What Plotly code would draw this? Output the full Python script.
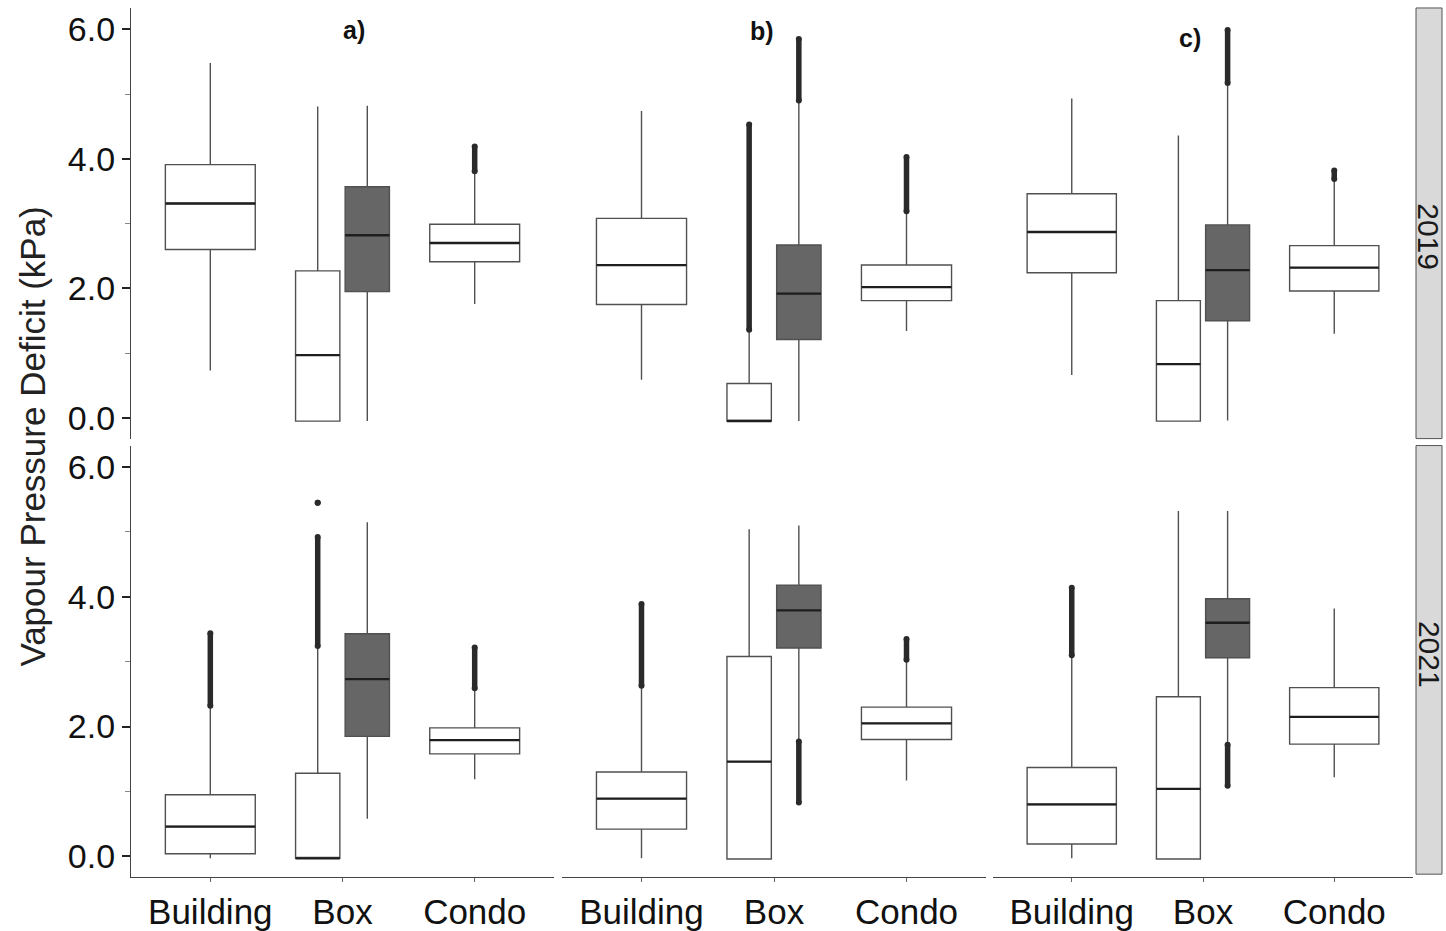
import plotly.graph_objects as go

# ---------------- data (panels ordered 2019 a,b,c then 2021 a,b,c) ----------------
years = ["2019", "2021"]
panel_labels = ["a)", "b)", "c)"]
categories = ["Building", "Box", "Condo"]

building_q1 = [2.60, 1.75, 2.24, 0.04, 0.42, 0.19]
building_med = [3.31, 2.36, 2.87, 0.46, 0.89, 0.80]
building_q3 = [3.91, 3.08, 3.46, 0.95, 1.30, 1.37]
building_lo = [0.73, 0.59, 0.66, -0.03, -0.03, -0.03]
building_hi = [5.48, 4.74, 4.93, 2.30, 2.61, 3.08]
building_out = [[], [], [], [(2.32, 3.44)], [(2.63, 3.89)], [(3.10, 4.14)]]

boxw_q1 = [-0.05, -0.05, -0.05, -0.03, -0.04, -0.04]
boxw_med = [0.97, -0.05, 0.83, -0.03, 1.46, 1.04]
boxw_q3 = [2.27, 0.53, 1.81, 1.28, 3.08, 2.46]
boxw_lo = [-0.05, -0.05, -0.05, -0.03, -0.04, -0.04]
boxw_hi = [4.81, 1.34, 4.36, 3.22, 5.04, 5.32]
boxw_out = [[], [(1.36, 4.53)], [], [(3.24, 4.92), (5.45, 5.45)], [], []]

boxd_q1 = [1.95, 1.21, 1.50, 1.85, 3.21, 3.06]
boxd_med = [2.82, 1.92, 2.28, 2.73, 3.79, 3.60]
boxd_q3 = [3.57, 2.67, 2.98, 3.43, 4.18, 3.97]
boxd_lo = [-0.05, -0.05, -0.04, 0.58, 1.80, 1.74]
boxd_hi = [4.82, 4.88, 5.15, 5.15, 5.10, 5.32]
boxd_out = [[], [(4.90, 5.85)], [(5.17, 5.99)], [], [(0.83, 1.77)], [(1.09, 1.72)]]

condo_q1 = [2.41, 1.81, 1.96, 1.58, 1.80, 1.73]
condo_med = [2.70, 2.02, 2.32, 1.79, 2.05, 2.15]
condo_q3 = [2.99, 2.36, 2.66, 1.98, 2.30, 2.60]
condo_lo = [1.76, 1.34, 1.30, 1.19, 1.17, 1.22]
condo_hi = [3.78, 3.17, 3.68, 2.57, 3.01, 3.82]
condo_out = [[(3.81, 4.19)], [(3.19, 4.03)], [(3.69, 3.82)], [(2.59, 3.22)], [(3.03, 3.35)], []]

# ---------------- layout / style ----------------
W, H = 1446, 931
FONT = "Liberation Sans, Arial, sans-serif"
col_px = [(131, 554), (562, 986), (993, 1413)]
row_px = [(8, 440), (447, 880)]
YR = [-0.32, 6.33]
DODGE = 0.1875
WIDE, NARROW = 0.68, 0.335
WHITE, DARK = "#ffffff", "#666666"
EDGE = "#505050"
MED = "#1e1e1e"
OUT = "#2a2a2a"

series = [
    # (position, width, fill, q1, med, q3, lo, hi, outliers)
    (1.0, WIDE, WHITE, building_q1, building_med, building_q3, building_lo, building_hi, building_out),
    (2.0 - DODGE, NARROW, WHITE, boxw_q1, boxw_med, boxw_q3, boxw_lo, boxw_hi, boxw_out),
    (2.0 + DODGE, NARROW, DARK, boxd_q1, boxd_med, boxd_q3, boxd_lo, boxd_hi, boxd_out),
    (3.0, WIDE, WHITE, condo_q1, condo_med, condo_q3, condo_lo, condo_hi, condo_out),
]

fig = go.Figure()
layout = dict(
    width=W, height=H, margin=dict(l=0, r=0, t=0, b=0),
    paper_bgcolor="white", plot_bgcolor="white",
    showlegend=False, boxmode="overlay",
    font=dict(family=FONT, color="#111111"),
)

for p in range(6):
    r, c = divmod(p, 3)
    n = p + 1
    xa = "x" if n == 1 else f"x{n}"
    ya = "y" if n == 1 else f"y{n}"
    for pos, w, fill, q1, med, q3, lo, hi, outs in series:
        fig.add_trace(go.Box(
            x=[pos], q1=[q1[p]], median=[med[p]], q3=[q3[p]],
            lowerfence=[lo[p]], upperfence=[hi[p]],
            width=w, fillcolor=fill, line=dict(color=EDGE, width=1.4),
            whiskerwidth=0, boxpoints=False, orientation="v",
            xaxis=xa, yaxis=ya, hoverinfo="skip",
        ))
        fig.add_trace(go.Scatter(
            x=[pos - w / 2, pos + w / 2], y=[med[p], med[p]], mode="lines",
            line=dict(color=MED, width=2.3), xaxis=xa, yaxis=ya, hoverinfo="skip",
        ))
        for seg in outs[p]:
            fig.add_trace(go.Scatter(
                x=[pos, pos], y=[seg[0], seg[1]], mode="lines+markers",
                line=dict(color=OUT, width=5.5),
                marker=dict(color=OUT, size=6),
                xaxis=xa, yaxis=ya, hoverinfo="skip",
            ))

    x0, x1 = col_px[c]
    y0, y1 = row_px[r]
    bottom = r == 1
    left = c == 0
    layout[f"xaxis{'' if n == 1 else n}"] = dict(
        domain=[x0 / W, x1 / W], anchor=ya,
        range=[0.4, 3.6], showgrid=False, zeroline=False,
        tickmode="array", tickvals=[1, 2, 3], ticktext=categories,
        showticklabels=bottom, ticks="outside" if bottom else "",
        ticklen=4, tickwidth=1, tickcolor="#666666",
        showline=bottom, linecolor="#444444", linewidth=1.3,
        tickfont=dict(size=35, color="#111111", family=FONT),
        fixedrange=True,
    )
    layout[f"yaxis{'' if n == 1 else n}"] = dict(
        domain=[1 - y1 / H, 1 - y0 / H], anchor=xa,
        range=YR, showgrid=False, zeroline=False,
        tickmode="array", tickvals=[0, 2, 4, 6], ticktext=["0.0", "2.0", "4.0", "6.0"],
        showticklabels=left, ticks="outside" if left else "",
        ticklen=8, tickwidth=2, tickcolor="#222222",
        minor=dict(tickvals=[1, 3, 5], ticks="outside" if left else "", ticklen=5,
                   tickwidth=1, tickcolor="#888888"),
        showline=left, linecolor="#444444", linewidth=1.3,
        tickfont=dict(size=34, color="#111111", family=FONT),
        fixedrange=True,
    )

annotations = [
    dict(text="Vapour Pressure Deficit (kPa)", textangle=-90, xref="paper", yref="paper",
         x=33 / W, y=1 - 438 / H, showarrow=False, xanchor="center", yanchor="middle",
         font=dict(size=35, color="#222222", family=FONT)),
]
label_px = [(354, 30), (762, 31), (1190, 38)]
for lab, (lx, ly) in zip(panel_labels, label_px):
    annotations.append(dict(text=f"<b>{lab}</b>", xref="paper", yref="paper",
                            x=lx / W, y=1 - ly / H, showarrow=False,
                            xanchor="center", yanchor="middle",
                            font=dict(size=25, color="#111111", family=FONT)))

shapes = []
strip_x = (1416, 1442)
strip_rows = [(8, 440), (447, 877)]
strip_text_y = [237, 656]
for yr, (sy0, sy1), ty in zip(years, strip_rows, strip_text_y):
    shapes.append(dict(type="rect", xref="paper", yref="paper",
                       x0=strip_x[0] / W, x1=strip_x[1] / W,
                       y0=1 - sy1 / H, y1=1 - sy0 / H,
                       fillcolor="#d9d9d9", line=dict(color="#555555", width=1)))
    annotations.append(dict(text=yr, textangle=90, xref="paper", yref="paper",
                            x=(strip_x[0] + strip_x[1]) / 2 / W, y=1 - ty / H,
                            showarrow=False, xanchor="center", yanchor="middle",
                            borderpad=0,
                            font=dict(size=30, color="#1a1a1a", family=FONT)))

layout["annotations"] = annotations
layout["shapes"] = shapes
fig.update_layout(**layout)
fig.write_html("out.html")
